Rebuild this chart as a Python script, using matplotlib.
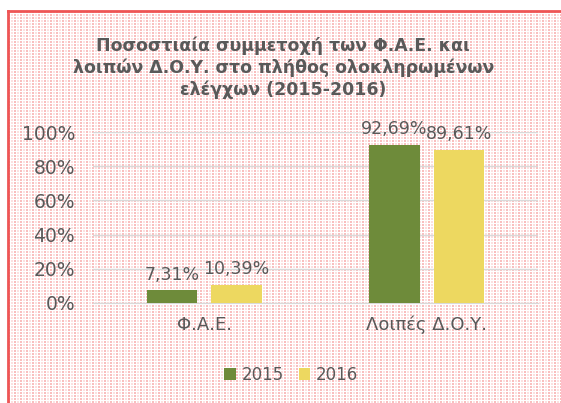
import numpy as np
import matplotlib.pyplot as plt
from matplotlib.lines import Line2D

categories = ['Φ.Α.Ε.', 'Λοιπές Δ.Ο.Υ.']
years = ['2015', '2016']
values_2015 = [7.31, 92.69]
values_2016 = [10.39, 89.61]
yticks = [0, 20, 40, 60, 80, 100]
colors = ['#6E8B3A', '#EDD860']
txt = '#595959'

fig = plt.figure(figsize=(5.61, 4.03), dpi=100)
fig.patch.set_facecolor('white')

# dotted pink background (Excel-like pattern fill, vertical streaks)
h, w = 392, 553
yy, xx = np.mgrid[0:h, 0:w]
bg = np.ones((h, w, 3))
dots = (xx % 3 != 2) & (yy % 3 != 2)
dark = dots & ((xx // 3) % 2 == 0)
light = dots & ~dark
bg[dark] = [0.98, 0.75, 0.75]
bg[light] = [0.99, 0.88, 0.88]
fig.figimage(bg, xo=8, yo=0, zorder=-5)

# red frame (top and left)
fig.add_artist(Line2D([8 / 561, 8 / 561], [0, 1 - 11 / 403], color='#EE5555', lw=2))
fig.add_artist(Line2D([8 / 561, 1], [1 - 11 / 403, 1 - 11 / 403], color='#EE5555', lw=2))

ax = fig.add_axes([93 / 561, 100 / 403, 445 / 561, 171 / 403])
ax.set_zorder(2)
ax.patch.set_alpha(0)

x = np.arange(len(categories))
off = 0.145
bw = 0.225
b1 = ax.bar(x - off, np.array(values_2015), width=bw, color=colors[0], label=years[0], zorder=3)
b2 = ax.bar(x + off, np.array(values_2016), width=bw, color=colors[1], label=years[1], zorder=3)

for bars, vals in [(b1, values_2015), (b2, values_2016)]:
    for r, v in zip(bars, vals):
        ax.annotate(f'{v:.2f}%'.replace('.', ','), (r.get_x() + r.get_width() / 2, r.get_height()),
                    xytext=(0, 5), textcoords='offset points', ha='center', va='bottom',
                    fontsize=12.5, color=txt, zorder=4)

ax.set_xlim(-0.5, 1.5)
ax.set_ylim(0, 100)
ax.set_yticks(yticks)
ax.set_yticklabels([f'{t}%' for t in yticks])
ax.set_xticks(x)
ax.set_xticklabels(categories)
ax.yaxis.grid(True, color='#D9D9D9', lw=1, zorder=0)
ax.set_axisbelow(True)
for s in ['top', 'right', 'left']:
    ax.spines[s].set_visible(False)
ax.spines['bottom'].set_color('#D9D9D9')
ax.tick_params(axis='y', length=0, labelsize=13.5, labelcolor=txt, pad=13)
ax.tick_params(axis='x', length=0, labelsize=13, labelcolor=txt, pad=9)

fig.text(0.505, 0.831, 'Ποσοστιαία συμμετοχή των Φ.Α.Ε. και\nλοιπών Δ.Ο.Υ. στο πλήθος ολοκληρωμένων\nελέγχων (2015-2016)',
         ha='center', va='center', fontsize=12.5, fontweight='bold', color=txt, linespacing=1.25)

fig.legend(loc='center', bbox_to_anchor=(0.519, 0.07), ncol=2, frameon=False,
           handlelength=0.7, handleheight=0.7, handletextpad=0.35, columnspacing=0.9,
           labelcolor=txt, fontsize=12)

fig.savefig('out.png', dpi=100)
